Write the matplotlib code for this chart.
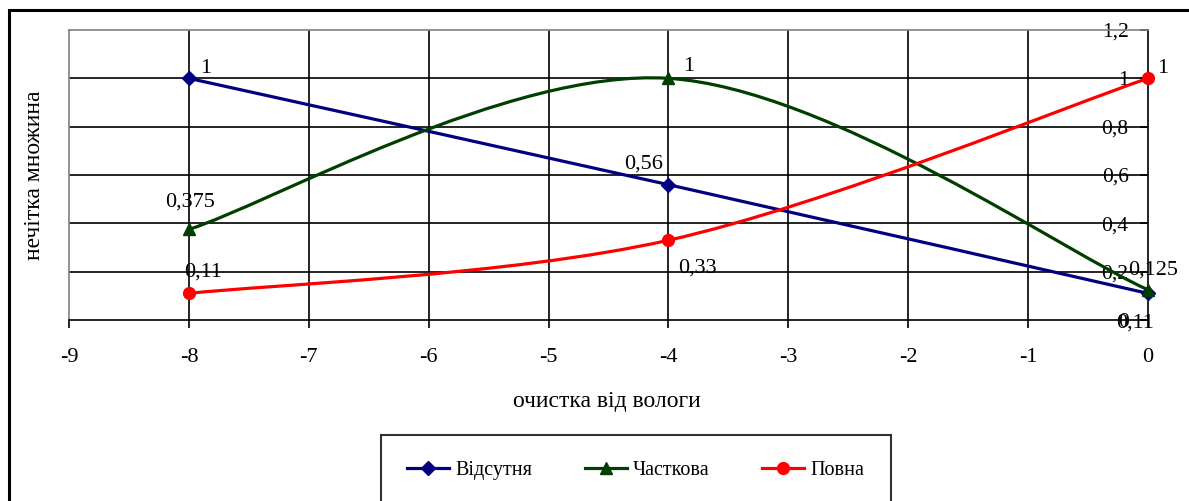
import numpy as np
import matplotlib.pyplot as plt
from matplotlib.path import Path
from matplotlib.patches import PathPatch, Rectangle
from matplotlib.lines import Line2D

plt.rcParams['font.family'] = ['Liberation Serif', 'DejaVu Serif']
plt.rcParams['axes.unicode_minus'] = False

# дані
x_vals = [-8, -4, 0]
vidsutnya = [1, 0.56, 0.11]
chastkova = [0.375, 1, 0.125]
povna = [0.11, 0.33, 1]
series_names = ['Відсутня', 'Часткова', 'Повна']
x_ticks = list(range(-9, 1))
y_ticks = [0, 0.2, 0.4, 0.6, 0.8, 1.0, 1.2]


def fmt(v):
    s = ('%g' % v).replace('.', ',')
    return s


def smooth_path(xs, ys):
    # згладжена лінія як в Excel (кубічні криві Безьє)
    pts = np.column_stack([xs, ys]).astype(float)
    n = len(pts)
    verts = [pts[0]]
    codes = [Path.MOVETO]
    for i in range(n - 1):
        p0 = pts[i - 1] if i > 0 else pts[i]
        p1 = pts[i]
        p2 = pts[i + 1]
        p3 = pts[i + 2] if i + 2 < n else pts[i + 1]
        c1 = p1 + (p2 - p0) / 6.0
        c2 = p2 - (p3 - p1) / 6.0
        verts += [c1, c2, p2]
        codes += [Path.CURVE4] * 3
    return Path(verts, codes)


fig = plt.figure(figsize=(11.89, 5.01), dpi=100)
W, H = 1189, 501
ax = fig.add_axes([69 / W, 1 - 320 / H, (1148 - 69) / W, 290 / H])

ax.set_xlim(-9, 0)
ax.set_ylim(0, 1.2)

# сітка
for yv in y_ticks[1:-1]:
    ax.axhline(yv, color='black', lw=1.2, zorder=1)
for xv in x_ticks[1:-1]:
    ax.axvline(xv, color='black', lw=1.2, zorder=1)

# осі
ax.spines['left'].set_position(('data', 0))
ax.spines['left'].set_color('black')
ax.spines['left'].set_linewidth(1.2)
ax.spines['right'].set_position(('axes', 0))
ax.spines['right'].set_color('#808080')
ax.spines['top'].set_color('#808080')
ax.spines['bottom'].set_color('black')
ax.spines['bottom'].set_linewidth(1.2)
for s in ['right', 'top']:
    ax.spines[s].set_linewidth(1.2)

ax.set_xticks(x_ticks)
ax.set_xticklabels([str(v) for v in x_ticks])
ax.set_yticks(y_ticks)
ax.set_yticklabels([fmt(v) for v in y_ticks])
ax.tick_params(axis='x', direction='out', length=6, width=1.2, pad=14, labelsize=16)
ax.tick_params(axis='y', direction='out', length=6, width=1.2, pad=8, labelsize=15.5)

colors = ['#000080', '#003f00', '#ff0000']
markers = ['D', '^', 'o']
msizes = [7, 9, 8.5]
data = [vidsutnya, chastkova, povna]

for ys, c, m, ms in zip(data, colors, markers, msizes):
    ax.add_patch(PathPatch(smooth_path(x_vals, ys), fill=False, edgecolor=c,
                           lw=2.3, zorder=3, clip_on=False))
    ax.plot(x_vals, ys, linestyle='none', marker=m, color=c, markersize=ms,
            zorder=4, clip_on=False)

# підписи значень (зсув у пікселях)
offsets = [
    [(17, 10), (-25, 21), (-13, -30)],
    [(1, 27), (20, 12), (5, 20)],
    [(14, 21), (29, -28), (15, 10)],
]
for ys, offs in zip(data, offsets):
    for xv, yv, off in zip(x_vals, ys, offs):
        ax.annotate(fmt(yv), (xv, yv), xytext=off, textcoords='offset pixels',
                    ha='center', va='center', fontsize=16, zorder=5,
                    annotation_clip=False)

fig.text(607 / W, 1 - 401 / H, 'очистка від вологи', ha='center', va='center',
         fontsize=17)
fig.text(35 / W, 1 - 175 / H, 'нечітка множина', ha='center', va='center',
         rotation=90, fontsize=17)

handles = [Line2D([], [], color=c, marker=m, markersize=ms, lw=2.3)
           for c, m, ms in zip(colors, markers, msizes)]
leg = fig.legend(handles, series_names, loc='upper left',
                 bbox_to_anchor=(381 / W, 1 - 435 / H), ncol=3, fontsize=14.5,
                 frameon=True, fancybox=False, edgecolor='black',
                 borderpad=1.3, handlelength=2.1, handletextpad=0.3,
                 columnspacing=2.6, borderaxespad=0)
leg.get_frame().set_linewidth(1.5)

# рамка діаграми
fig.add_artist(Rectangle((9 / W, -0.2), 1.2, 1.2 - 10 / H,
                         transform=fig.transFigure, fill=False,
                         edgecolor='black', lw=2.2))

fig.savefig('out.png', dpi=100)
